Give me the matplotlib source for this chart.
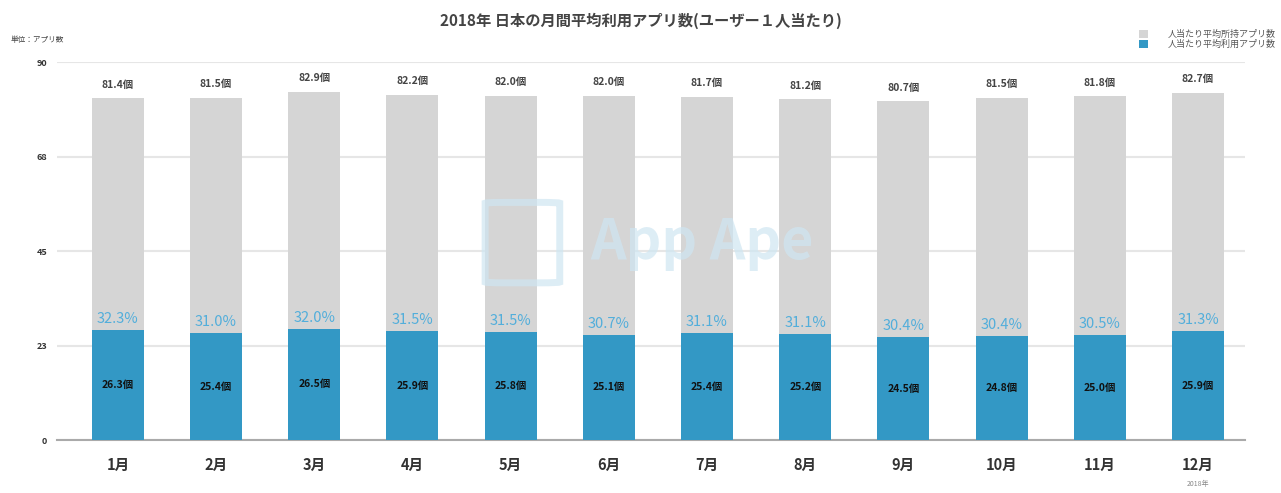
import matplotlib
matplotlib.use('Agg')
import matplotlib.pyplot as plt
from matplotlib.patches import FancyBboxPatch

plt.rcParams['font.family'] = ['Noto Sans CJK JP', 'DejaVu Sans']

months = ['1月', '2月', '3月', '4月', '5月', '6月', '7月', '8月', '9月', '10月', '11月', '12月']
installed = [81.4, 81.5, 82.9, 82.2, 82.0, 82.0, 81.7, 81.2, 80.7, 81.5, 81.8, 82.7]
used = [26.3, 25.4, 26.5, 25.9, 25.8, 25.1, 25.4, 25.2, 24.5, 24.8, 25.0, 25.9]
ratio = [32.3, 31.0, 32.0, 31.5, 31.5, 30.7, 31.1, 31.1, 30.4, 30.4, 30.5, 31.3]
yticks = [0, 22.5, 45, 67.5, 90]
ytick_labels = ['0', '23', '45', '68', '90']

gray = '#d5d5d5'
blue = '#3398c5'
pct_col = '#52aedb'
wm = '#cfe6f2'

fig = plt.figure(figsize=(12.81, 4.93), dpi=100)
ax = fig.add_axes([0.0445, 0.1075, 0.9275, 0.7667])

x = list(range(len(months)))
b1 = ax.bar(x, installed, width=0.53, color=gray, zorder=2, label='人当たり平均所持アプリ数')
b2 = ax.bar(x, used, width=0.53, color=blue, zorder=3, label='人当たり平均利用アプリ数')

for i in x:
    ax.text(i, installed[i] + 3.2, f'{installed[i]:.1f}個', ha='center', va='center',
            fontsize=7.5, fontweight='bold', color='#444444', zorder=5)
    ax.text(i, used[i] + 2.6, f'{ratio[i]:.1f}%', ha='center', va='center',
            fontsize=10.5, color=pct_col, zorder=5)
    ax.text(i, used[i] / 2, f'{used[i]:.1f}個', ha='center', va='center',
            fontsize=7.5, fontweight='bold', color='#111111', zorder=5)

ax.set_xlim(-0.62, 11.48)
ax.set_ylim(0, 90)
ax.set_yticks(yticks)
ax.set_yticklabels(ytick_labels, fontsize=6.5, color='#333333', fontweight='bold')
ax.set_xticks(x)
ax.set_xticklabels(months, fontsize=10.5, color='#333333', fontweight='bold')
ax.tick_params(axis='both', length=0)
ax.tick_params(axis='y', pad=7)
ax.tick_params(axis='x', pad=12)
for s in ['top', 'right', 'left']:
    ax.spines[s].set_visible(False)
ax.spines['bottom'].set_color('#aaaaaa')
ax.spines['bottom'].set_linewidth(1.5)
ax.grid(axis='y', color='#e6e6e6', linewidth=1.5, zorder=0)
ax.set_axisbelow(True)

ax.text(11, -10.5, '2018年', ha='center', va='center', fontsize=5, color='#888888')

# watermark
ax.text(5.95, 47, 'App Ape', ha='center', va='center', fontsize=40,
        fontweight='bold', color=wm, alpha=0.7, zorder=4)
logo = FancyBboxPatch((3.82, 37.5), 0.6, 19, boxstyle='round,pad=0.08,rounding_size=0.2',
                      fill=False, edgecolor=wm, linewidth=5, alpha=0.7, zorder=4)
ax.add_patch(logo)

fig.text(0.5, 0.958, '2018年 日本の月間平均利用アプリ数(ユーザー１人当たり)', ha='center', va='center',
         fontsize=11, fontweight='bold', color='#444444')
fig.text(0.008, 0.918, '単位：アプリ数', ha='left', va='center', fontsize=5.5, color='#444444')

fig.legend(handles=[b1, b2], loc='upper right', bbox_to_anchor=(1.0, 0.95), frameon=False,
           fontsize=6.5, handlelength=1.0, handleheight=1.0, labelspacing=0.05,
           handletextpad=2.2, labelcolor='#555555', borderaxespad=0.2)

fig.savefig('out.png', dpi=100)
